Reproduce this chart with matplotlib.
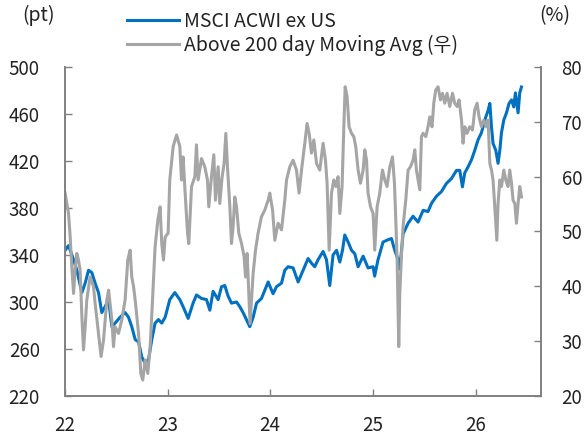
import matplotlib
matplotlib.use("Agg")
import matplotlib.pyplot as plt
from matplotlib.lines import Line2D

plt.rcParams['font.family'] = ['Noto Sans CJK KR', 'DejaVu Sans']

# MSCI ACWI ex US (pt), x = year (22 = 2022)
acwi_x = [22.003, 22.036, 22.085, 22.117, 22.166, 22.198, 22.231, 22.263, 22.295, 22.328,
          22.360, 22.392, 22.426, 22.458, 22.490, 22.538, 22.587, 22.620, 22.652, 22.685,
          22.718, 22.750, 22.782, 22.815, 22.847, 22.879, 22.912, 22.944, 22.977, 23.022,
          23.071, 23.120, 23.152, 23.201, 23.249, 23.282, 23.331, 23.380, 23.412, 23.444,
          23.493, 23.526, 23.558, 23.590, 23.623, 23.672, 23.704, 23.736, 23.769, 23.801,
          23.834, 23.867, 23.915, 23.947, 23.980, 24.028, 24.061, 24.110, 24.142, 24.174,
          24.223, 24.272, 24.320, 24.369, 24.402, 24.434, 24.466, 24.515, 24.548, 24.580,
          24.612, 24.646, 24.678, 24.704, 24.726, 24.759, 24.792, 24.824, 24.856, 24.905,
          24.953, 25.002, 25.017, 25.050, 25.099, 25.148, 25.181, 25.213, 25.245, 25.262,
          25.294, 25.343, 25.391, 25.440, 25.489, 25.537, 25.571, 25.619, 25.668, 25.717,
          25.765, 25.814, 25.846, 25.872, 25.895, 25.927, 25.960, 25.992, 26.024, 26.057,
          26.090, 26.122, 26.139, 26.155, 26.170, 26.197, 26.219, 26.236, 26.252, 26.275,
          26.301, 26.326, 26.350, 26.372, 26.388, 26.414, 26.430, 26.447]
acwi_y = [344, 348, 336, 327, 308, 316, 327, 325, 316, 308,
          291, 296, 302, 279, 282, 287, 291, 287, 279, 268,
          266, 253, 248, 251, 268, 282, 285, 282, 287, 302,
          308, 302, 296, 286, 299, 306, 303, 302, 293, 309,
          302, 313, 314, 305, 299, 300, 296, 291, 285, 279,
          287, 299, 303, 310, 317, 307, 313, 316, 327, 330,
          329, 317, 327, 337, 333, 330, 336, 343, 336, 314,
          340, 344, 334, 344, 357, 351, 344, 341, 330, 339,
          329, 330, 322, 336, 351, 353, 354, 344, 336, 328,
          358, 367, 373, 368, 378, 377, 384, 390, 394, 401,
          405, 412, 412, 398, 410, 415, 421, 429, 438, 444,
          455, 463, 469, 449, 435, 429, 418, 429, 444, 455,
          461, 469, 472, 466, 478, 461, 478, 483]

# Share above 200 day moving average (%), right axis
breadth_x = [22.003, 22.036, 22.052, 22.068, 22.085, 22.100, 22.117, 22.133, 22.149, 22.166,
             22.182, 22.198, 22.214, 22.246, 22.279, 22.295, 22.328, 22.353, 22.377, 22.409,
             22.426, 22.458, 22.474, 22.490, 22.523, 22.555, 22.587, 22.613, 22.636, 22.652,
             22.669, 22.685, 22.718, 22.740, 22.759, 22.782, 22.808, 22.831, 22.854, 22.879,
             22.906, 22.928, 22.944, 22.961, 22.977, 23.006, 23.022, 23.055, 23.088, 23.120,
             23.136, 23.152, 23.168, 23.195, 23.207, 23.234, 23.266, 23.282, 23.298, 23.331,
             23.363, 23.389, 23.402, 23.428, 23.451, 23.467, 23.493, 23.509, 23.532, 23.551,
             23.568, 23.584, 23.607, 23.623, 23.639, 23.655, 23.672, 23.694, 23.721, 23.746,
             23.760, 23.775, 23.792, 23.804, 23.818, 23.834, 23.857, 23.882, 23.915, 23.947,
             23.980, 23.996, 24.023, 24.045, 24.077, 24.110, 24.142, 24.159, 24.191, 24.223,
             24.256, 24.281, 24.305, 24.337, 24.359, 24.379, 24.402, 24.425, 24.451, 24.483,
             24.515, 24.538, 24.554, 24.574, 24.597, 24.619, 24.639, 24.661, 24.678, 24.700,
             24.717, 24.730, 24.749, 24.768, 24.792, 24.814, 24.833, 24.856, 24.879, 24.905,
             24.921, 24.938, 24.953, 24.977, 25.002, 25.018, 25.041, 25.067, 25.093, 25.116,
             25.138, 25.165, 25.191, 25.210, 25.223, 25.236, 25.245, 25.252, 25.262, 25.279,
             25.294, 25.320, 25.343, 25.366, 25.391, 25.408, 25.424, 25.440, 25.457, 25.473,
             25.489, 25.515, 25.537, 25.554, 25.576, 25.593, 25.612, 25.635, 25.658, 25.678,
             25.700, 25.722, 25.749, 25.775, 25.797, 25.820, 25.839, 25.863, 25.878, 25.895,
             25.917, 25.943, 25.970, 25.992, 26.015, 26.034, 26.057, 26.080, 26.106, 26.122,
             26.139, 26.155, 26.170, 26.187, 26.207, 26.219, 26.236, 26.252, 26.275, 26.294,
             26.316, 26.333, 26.350, 26.365, 26.382, 26.398, 26.414, 26.430, 26.447]
breadth_y = [57.0, 53.3, 49.0, 43.6, 38.7, 43.0, 46.0, 44.8, 43.0, 34.5,
             28.4, 32.6, 37.5, 41.7, 40.0, 36.9, 31.4, 27.2, 30.2, 37.5,
             39.3, 33.9, 29.0, 32.6, 31.4, 33.9, 37.5, 44.8, 46.6, 41.7,
             40.0, 37.5, 31.4, 24.1, 22.9, 26.6, 24.1, 29.0, 37.5, 47.2,
             52.1, 54.5, 47.8, 44.8, 49.0, 49.7, 59.4, 65.5, 67.6, 65.5,
             59.4, 63.6, 58.2, 49.7, 47.8, 58.2, 60.0, 65.8, 59.4, 63.3,
             61.8, 59.4, 54.5, 60.0, 64.0, 55.7, 61.8, 55.1, 60.0, 62.4,
             67.9, 61.8, 54.5, 47.8, 50.9, 56.3, 54.5, 49.7, 47.8, 45.4,
             41.7, 46.0, 38.7, 33.2, 37.5, 42.4, 46.6, 49.7, 52.7, 53.9,
             55.7, 57.0, 53.9, 48.4, 51.5, 50.3, 55.7, 59.4, 61.8, 63.0,
             61.2, 57.0, 61.2, 66.1, 69.7, 67.9, 64.3, 66.7, 62.4, 61.2,
             66.1, 63.0, 58.8, 46.6, 57.0, 59.4, 58.2, 60.0, 53.3, 58.2,
             69.1, 76.4, 74.6, 69.1, 67.9, 67.3, 65.5, 61.2, 58.8, 61.2,
             64.9, 63.0, 57.0, 54.5, 53.3, 46.6, 54.5, 57.0, 61.2, 59.4,
             58.2, 61.8, 63.6, 58.8, 52.1, 44.8, 35.7, 29.0, 38.7, 46.0,
             50.9, 55.7, 61.2, 61.8, 63.0, 64.9, 61.2, 59.4, 57.6, 67.3,
             67.9, 67.3, 69.1, 70.9, 69.1, 73.4, 75.8, 76.4, 74.0, 75.2,
             73.4, 75.2, 72.8, 75.2, 73.4, 72.8, 74.0, 70.3, 66.1, 69.1,
             67.9, 69.1, 68.5, 72.2, 73.4, 70.9, 69.1, 70.3, 69.1, 70.3,
             62.4, 61.2, 59.4, 54.5, 48.4, 55.1, 59.4, 58.2, 61.2, 59.4,
             58.2, 61.2, 58.8, 55.7, 55.1, 51.5, 55.1, 58.2, 56.3]

year_ticks = [22, 23, 24, 25, 26]
year_labels = ['22', '23', '24', '25', '26']

blue = '#0070C0'
gray = '#A5A5A5'
spine_col = '#808080'
fs = 13.5
fs_leg = 14

fig = plt.figure(figsize=(5.84, 4.38), dpi=100)
ax = fig.add_axes([0.111, 0.096, 0.815, 0.751])
ax2 = ax.twinx()

ax.plot(acwi_x, acwi_y, color=blue, lw=2.2)
ax2.plot(breadth_x, breadth_y, color=gray, lw=2.2)

ax.set_xlim(22, 26.635)
ax.set_ylim(220, 500)
ax.set_yticks(range(220, 501, 40))
ax2.set_ylim(20, 80)
ax2.set_yticks(range(20, 81, 10))
ax.set_xticks(year_ticks)
ax.set_xticklabels(year_labels)

for a in (ax, ax2):
    a.spines['top'].set_visible(False)
    for s in ('left', 'right', 'bottom'):
        a.spines[s].set_color(spine_col)
        a.spines[s].set_linewidth(1.2)
    a.tick_params(direction='in', length=5, width=1, color=spine_col,
                  labelsize=fs, labelcolor='#222222')
ax.tick_params(axis='y', pad=18)
ax2.tick_params(axis='y', pad=15)
ax.tick_params(axis='x', pad=14)

fig.text(0.038, 0.965, '(pt)', fontsize=fs_leg, color='#222222', va='center')
fig.text(0.923, 0.965, '(%)', fontsize=fs_leg, color='#222222', va='center')

handles = [Line2D([], [], color=blue, lw=2.2),
           Line2D([], [], color=gray, lw=2.2)]
fig.legend(handles, ['MSCI ACWI ex US', 'Above 200 day Moving Avg (우)'],
           loc='upper left', bbox_to_anchor=(0.187, 1.015), frameon=False,
           fontsize=fs_leg, handlelength=2.7, handletextpad=0.25, labelspacing=0.15,
           labelcolor='#222222')

fig.savefig('out.png', dpi=100)
